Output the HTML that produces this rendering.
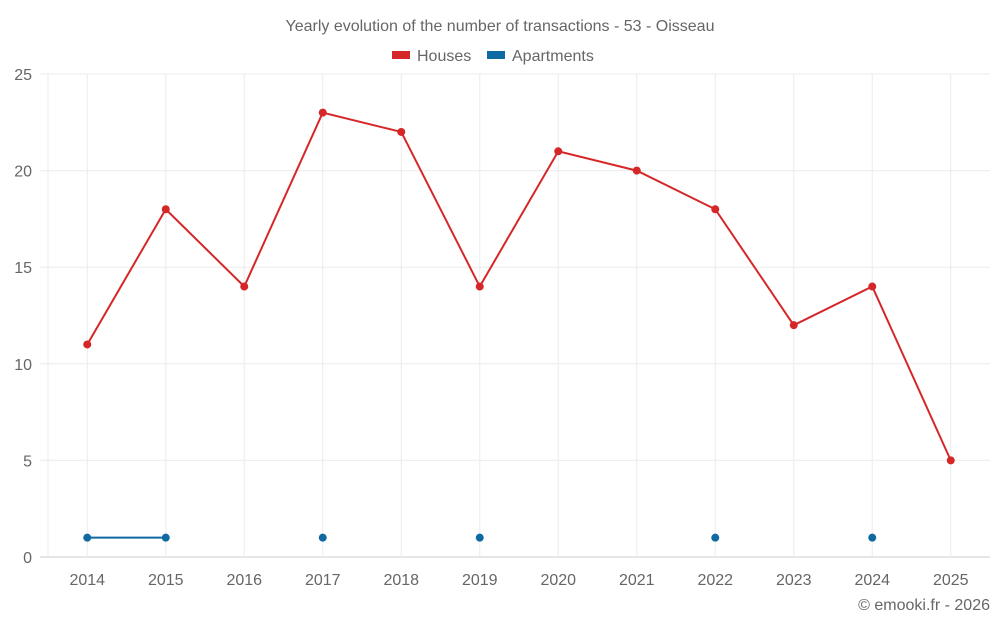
<!DOCTYPE html>
<html><head><meta charset="utf-8">
<style>
body{margin:0;background:#fff;font-family:"Liberation Sans",sans-serif;}
svg text{font-family:"Liberation Sans",sans-serif;fill:#666;}
</style></head>
<body>
<svg id="chart" width="1000" height="625">
<text x="500" y="31" text-anchor="middle" font-size="16">Yearly evolution of the number of transactions - 53 - Oisseau</text>
<g>
<rect x="392" y="51" width="18" height="8" fill="#d62728"/>
<text x="417" y="61" font-size="16">Houses</text>
<rect x="487" y="51" width="18" height="8" fill="#0f69a3"/>
<text x="512" y="61" font-size="16">Apartments</text>
</g>
<g id="grid"></g>
<g id="axes"></g>
<g id="series"></g>
<text x="990" y="610" text-anchor="end" font-size="16">© emooki.fr - 2026</text>
</svg>
<script>
const years=[2014,2015,2016,2017,2018,2019,2020,2021,2022,2023,2024,2025];
const houses=[11,18,14,23,22,14,21,20,18,12,14,5];
const apartments=[1,1,null,1,null,1,null,null,1,null,1,null];
const yTicks=[0,5,10,15,20,25];
const NS="http://www.w3.org/2000/svg";
const L=48,R=990,T=74,B=557,yMax=25;
const step=(R-L)/years.length;
const xs=i=>L+step*(i+0.5);
const ys=v=>B-(v/yMax)*(B-T);
function mk(tag,attrs,parent){const e=document.createElementNS(NS,tag);for(const k in attrs)e.setAttribute(k,attrs[k]);parent.appendChild(e);return e;}
const grid=document.getElementById('grid'),axes=document.getElementById('axes'),ser=document.getElementById('series');
yTicks.forEach(t=>{
 const l=mk('line',{x1:40,x2:R,y1:ys(t),y2:ys(t),stroke:t===0?'#ccc':'#ebebeb','stroke-width':1},grid);
 
 
 const tx=mk('text',{x:32,y:ys(t)+6,'text-anchor':'end','font-size':16},axes);
 tx.textContent=t;
 
 
});
const lEdge=mk('line',{x1:L,x2:L,y1:T,y2:B,stroke:'#ebebeb','stroke-width':1},grid);


years.forEach((y,i)=>{
 const l=mk('line',{x1:xs(i),x2:xs(i),y1:T,y2:B,stroke:'#ebebeb','stroke-width':1},grid);
 
 
 const tx=mk('text',{x:xs(i),y:585,'text-anchor':'middle','font-size':16},axes);
 tx.textContent=y;
 
 
});
function drawSeries(vals,color,name){
 let segs=[],cur=[];
 vals.forEach((v,i)=>{if(v==null){if(cur.length)segs.push(cur);cur=[];}else cur.push([xs(i),ys(v)]);});
 if(cur.length)segs.push(cur);
 segs.forEach(s=>{if(s.length>1){
  const p=mk('polyline',{points:s.map(q=>q.join(',')).join(' '),fill:'none',stroke:color,'stroke-width':2},ser);
  
  
 }});
 vals.forEach((v,i)=>{if(v==null)return;
  const c=mk('circle',{cx:xs(i),cy:ys(v),r:4,fill:color},ser);
  
  
 });
}
drawSeries(houses,'#d62728','houses');
drawSeries(apartments,'#0f69a3','apartments');
</script>
</body></html>
